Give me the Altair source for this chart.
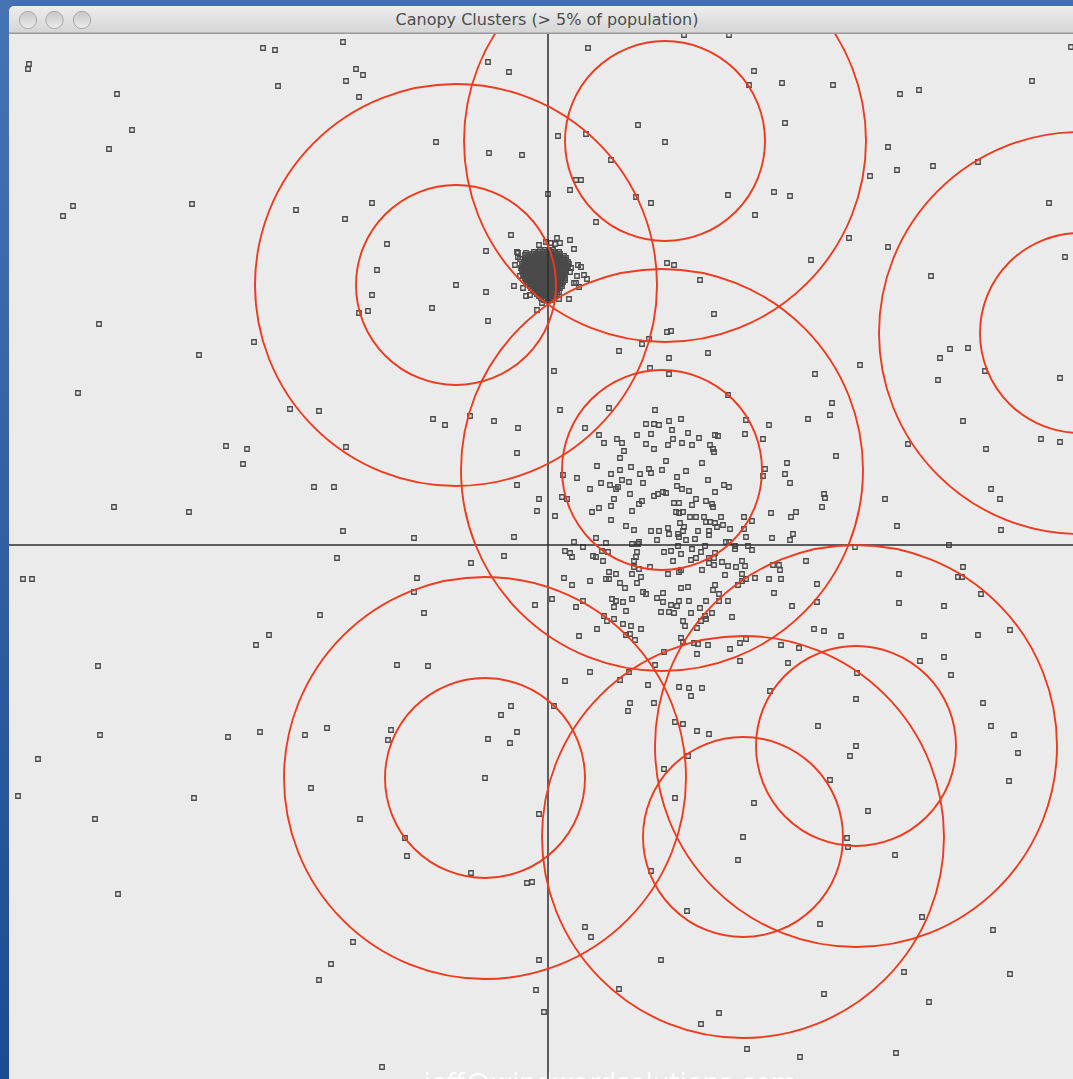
import altair as alt
import pandas as pd

TITLE = "Canopy Clusters (> 5% of population)"
WATERMARK = "jeff@windwardsolutions.com"

# ---- canopy centres and the two distance thresholds ----
CANOPY_X = [-92, 117, 532, 114, -63, 195, 308]
CANOPY_Y = [260, 404, 212, 75, -233, -292, -201]
T2_RADIUS = 100
T1_RADIUS = 201

# ---- sample points, grouped by region of the plane ----
PTS_NW = [(-285, 497), (-273, 495), (-519, 481), (-520, 476), (-431, 451), (-270, 459),
          (-416, 415), (-439, 396), (-475, 339), (-485, 329), (-356, 341), (-252, 335),
          (-449, 221)]

PTS_N = [(-205, 503), (-60, 483), (-39, 473), (-192, 476), (-185, 470), (-202, 464),
         (-189, 448), (40, 497), (136, 510), (-112, 403), (-59, 392), (-26, 390), (10, 409),
         (38, 411), (90, 420), (117, 403), (63, 385), (28, 365), (33, 365), (22, 355),
         (0, 351), (88, 348), (103, 342), (48, 323), (-176, 342), (-203, 326), (-161, 301),
         (-171, 275), (-176, 250), (-180, 234), (-189, 232), (-116, 237), (-92, 260),
         (-62, 294), (-62, 253), (-60, 224), (-37, 310), (119, 282), (126, 280), (152, 265),
         (119, 213), (123, 214)]

BLOB_EDGE = [(-9, 300), (9, 307), (22, 305), (26, 296), (12, 302), (7, 301), (30, 280),
             (33, 278), (36, 270), (29, 269), (26, 262), (28, 262), (31, 258), (21, 246),
             (11, 246), (0, 247), (-6, 242), (-11, 235), (-22, 249), (-34, 259), (-33, 280),
             (-30, 292), (-22, 292), (-28, 269), (-25, 257), (-2, 303), (3, 302), (-31, 293),
             (-23, 290), (-30, 288), (-28, 286), (23, 277), (22, 273), (39, 266), (-18, 250)]

# dense core of the tight cluster: (y, [x values]) per row
BLOB_ROWS = [
    (295, [-8, -3, 1, 5]),
    (293, [-14, -10, -5, -1, 3, 7, 11]),
    (291, [-16, -12, -7, -3, 1, 4, 9, 12]),
    (289, [-20, -15, -11, -8, -4, 0, 4, 8, 12, 16]),
    (287, [-22, -18, -13, -10, -6, -1, 2, 7, 10, 15, 18]),
    (285, [-23, -21, -17, -13, -9, -6, -2, 3, 6, 10, 14, 18]),
    (283, [-24, -19, -16, -11, -8, -4, 0, 5, 8, 12, 17, 20]),
    (281, [-26, -23, -18, -14, -10, -7, -3, 1, 6, 10, 13, 17, 21]),
    (279, [-25, -21, -17, -12, -9, -5, -1, 3, 8, 11, 15, 19]),
    (277, [-27, -23, -19, -15, -12, -8, -4, 0, 4, 9, 12, 16, 20]),
    (275, [-26, -22, -17, -14, -10, -6, -2, 2, 6, 11, 14, 18]),
    (273, [-25, -22, -18, -13, -10, -5, -1, 2, 7, 10, 14, 18]),
    (271, [-24, -20, -15, -12, -8, -3, 0, 4, 9, 12, 16]),
    (269, [-25, -21, -17, -13, -9, -5, -1, 3, 7, 11, 15]),
    (267, [-23, -19, -15, -10, -7, -3, 2, 5, 9, 13, 17]),
    (265, [-22, -18, -15, -11, -6, -2, 1, 6, 10, 13, 17]),
    (263, [-21, -16, -13, -9, -4, -1, 3, 8, 11, 15]),
    (261, [-20, -16, -11, -7, -3, 0, 5, 9, 13]),
    (259, [-18, -14, -9, -6, -2, 2, 7, 10, 14]),
    (257, [-17, -12, -8, -4, -1, 4, 8, 12]),
    (255, [-15, -11, -6, -3, 1, 6, 9]),
    (253, [-13, -9, -5, -1, 3, 7, 11]),
    (251, [-11, -7, -2, 1, 5, 9]),
    (249, [-9, -5, 0, 3, 7]),
    (247, [-7, -3, 2, 5]),
    (245, [-4, 0, 4]),
]

PTS_NE = [(181, 510), (206, 474), (201, 460), (234, 462), (285, 460), (237, 422), (352, 451),
          (371, 455), (484, 464), (523, 498), (340, 398), (349, 375), (385, 379), (322, 369),
          (430, 383), (180, 350), (226, 353), (242, 349), (207, 330), (301, 307), (263, 285),
          (340, 298), (383, 269), (501, 342), (517, 288), (166, 231)]

PTS_W = [(-294, 203), (-349, 190), (-470, 152), (-258, 136), (-229, 134), (-322, 99),
         (-301, 96), (-305, 81), (-202, 98), (-115, 126), (-103, 120), (-78, 129), (-54, 124),
         (-30, 117), (-31, 92), (-31, 60), (-9, 46), (-11, 34), (-234, 58), (-214, 58),
         (-434, 38), (-359, 33), (-205, 14), (-134, 7), (-34, 8), (-211, -13), (-44, -11),
         (-77, -18), (-525, -34), (-516, -34), (-131, -33), (-134, -47), (-124, -68),
         (-13, -60), (-228, -70), (-279, -90), (-292, -100), (-450, -121), (-151, -120),
         (-120, -121)]

PTS_CENTRAL = [
    (94, 201), (101, 206), (71, 194), (121, 187), (160, 192), (6, 174), (102, 177), (121, 171),
    (267, 171), (312, 180), (392, 187), (402, 196), (420, 197), (390, 165), (437, 174),
    (512, 167), (180, 150), (12, 135), (61, 137), (107, 135), (284, 142), (282, 130),
    (260, 126), (415, 124), (37, 117), (98, 121), (106, 121), (111, 120), (121, 124),
    (133, 126), (198, 125), (221, 120), (51, 110), (69, 106), (74, 102), (89, 110), (103, 111),
    (124, 115), (125, 106), (140, 112), (151, 107), (167, 110), (170, 109), (197, 111),
    (215, 106), (360, 101), (438, 96), (493, 106), (512, 103), (56, 102), (76, 94), (98, 101),
    (106, 96), (120, 100), (134, 102), (144, 100), (162, 100), (165, 96), (166, 93), (72, 87),
    (118, 84), (49, 79), (72, 75), (83, 78), (101, 76), (103, 72), (114, 75), (138, 74),
    (154, 82), (217, 76), (215, 69), (239, 82), (237, 71), (288, 89), (15, 70), (29, 67),
    (63, 71), (74, 65), (81, 63), (92, 71), (95, 62), (129, 68), (129, 59), (160, 65), (42, 56),
    (53, 62), (62, 60), (68, 56), (70, 58), (82, 51), (106, 49), (110, 51), (115, 53), (118, 52),
    (134, 56), (141, 54), (167, 53), (176, 60), (181, 58), (242, 62), (276, 51), (277, 47),
    (443, 56), (452, 46), (337, 46), (14, 48), (19, 46), (66, 46), (94, 44), (91, 41), (126, 42),
    (131, 42), (148, 46), (158, 44), (164, 41), (165, 38), (144, 40), (51, 37), (44, 33),
    (63, 39), (84, 34), (274, 38), (7, 29), (63, 25), (128, 33), (131, 32), (135, 33), (142, 28),
    (148, 28), (156, 28), (223, 32), (243, 28), (248, 33), (196, 28), (204, 24), (173, 28),
    (158, 23), (162, 23), (167, 22), (169, 18), (175, 20), (132, 22), (136, 18), (78, 19),
    (86, 15), (103, 14), (111, 14), (120, 17), (121, 11), (130, 11), (131, 8), (135, 14),
    (150, 14), (161, 14), (161, 10), (182, 16), (196, 16), (198, 8), (224, 7), (245, 11),
    (242, 5), (349, 19), (453, 15), (48, 7), (109, 5), (138, 5), (147, 6), (26, 3), (35, -2),
    (58, 2), (54, -6), (60, -7), (84, 1), (91, 3), (90, 1), (130, -1), (157, -1), (178, 3),
    (181, 3), (187, -1), (200, -1), (204, -5), (187, -4), (307, -2), (401, 0), (17, -6),
    (22, -8), (24, -12), (45, -11), (48, -12), (55, -16), (89, -7), (88, -12), (86, -16),
    (86, -22), (91, -24), (116, -7), (123, -6), (133, -9), (144, -4), (143, -15), (148, -13),
    (153, -7), (125, -16), (161, -13), (167, -8), (166, -13), (161, -18), (166, -20),
    (174, -17), (180, -21), (188, -22), (194, -16), (197, -21), (225, -20), (231, -20),
    (232, -25), (258, -16), (102, -22), (120, -29), (131, -27), (133, -25), (154, -25),
    (177, -30), (194, -29), (61, -27), (68, -29), (16, -33), (24, -40), (42, -36), (58, -34),
    (61, -34), (72, -38), (77, -43), (84, -29), (93, -32), (89, -38), (133, -43), (140, -42),
    (167, -40), (165, -45), (190, -40), (194, -36), (198, -34), (207, -33), (221, -34),
    (233, -34), (269, -39), (351, -29), (415, -22), (410, -32), (414, -32), (4, -54), (28, -62),
    (35, -56), (64, -54), (68, -56), (75, -57), (84, -54), (66, -62), (78, -66), (95, -47),
    (98, -49), (109, -53), (115, -48), (115, -57), (123, -60), (129, -61), (131, -56),
    (141, -56), (158, -56), (171, -56), (180, -56), (171, -49), (226, -48), (244, -61),
    (269, -57), (351, -58), (396, -61), (433, -49), (113, -67), (121, -67), (126, -68),
    (143, -68), (152, -63), (157, -71), (164, -68), (184, -72), (56, -71), (59, -76), (66, -74),
    (75, -79), (83, -81), (93, -84), (49, -84), (31, -91), (78, -90), (82, -89), (87, -95),
    (135, -76), (137, -81), (149, -83), (153, -76), (158, -74), (133, -93), (135, -97),
    (146, -98), (150, -99), (149, -109), (160, -100), (182, -104), (192, -98), (198, -94),
    (192, -116), (116, -107), (107, -120), (233, -100), (251, -103), (266, -84), (276, -86),
    (293, -91), (240, -118), (309, -128), (372, -116), (396, -112), (376, -91), (430, -90),
    (462, -85), (403, -130), (42, -127), (17, -136), (72, -135), (81, -127), (100, -140),
    (131, -142), (141, -143), (154, -143)]

PTS_SW = [(-448, -190), (-510, -214), (-530, -251), (-453, -274), (-430, -349), (-320, -192),
          (-288, -187), (-354, -253), (-243, -190), (-221, -183), (-237, -243), (-188, -274),
          (-157, -185), (-160, -195), (-143, -293), (-141, -311), (-63, -233), (-60, -194),
          (-47, -170), (-37, -161), (-31, -187), (-38, -198), (-77, -328), (-21, -338),
          (-16, -337), (-9, -269), (-195, -397), (-217, -419), (-229, -435), (-9, -415),
          (-12, -445), (-4, -467), (-166, -522)]

PTS_SE = [(6, -161), (82, -158), (80, -166), (106, -158), (143, -151), (222, -146), (308, -154),
          (127, -177), (135, -179), (149, -186), (161, -189), (270, -181), (308, -201),
          (302, -211), (140, -211), (116, -224), (282, -235), (127, -253), (206, -258),
          (320, -266), (195, -292), (190, -315), (299, -293), (300, -302), (347, -310),
          (103, -326), (139, -366), (272, -379), (374, -372), (37, -382), (43, -392),
          (113, -415), (356, -427), (276, -449), (381, -457), (71, -444), (171, -468),
          (153, -479), (199, -504), (252, -512), (348, -508), (435, -158), (443, -181),
          (466, -190), (470, -208), (461, -236), (445, -385), (462, -429)]

# ---- tables ----
rows = []
for group in (PTS_NW, PTS_N, BLOB_EDGE, PTS_NE, PTS_W, PTS_CENTRAL, PTS_SW, PTS_SE):
    rows.extend({"x": x, "y": y} for x, y in group)
for yv, xs_row in BLOB_ROWS:
    rows.extend({"x": x, "y": yv} for x in xs_row)
points_df = pd.DataFrame(rows)

circ_rows = []
for cx, cy in zip(CANOPY_X, CANOPY_Y):
    circ_rows.append({"x": cx, "y": cy, "r": T2_RADIUS})
    circ_rows.append({"x": cx, "y": cy, "r": T1_RADIUS})
circles_df = pd.DataFrame(circ_rows)

# ---- geometry of the window ----
W, H = 1064, 1045
xscale = alt.Scale(domain=[-539, 525], nice=False, zero=False)
yscale = alt.Scale(domain=[-534, 511], nice=False, zero=False)
X = alt.X("x:Q", scale=xscale, axis=None)
Y = alt.Y("y:Q", scale=yscale, axis=None)
one = pd.DataFrame({"k": [0]})


def vgrad(top, bottom):
    return alt.LinearGradient(gradient="linear", x1=0, y1=0, x2=0, y2=1,
                              stops=[alt.GradientStop(color=top, offset=0),
                                     alt.GradientStop(color=bottom, offset=1)])


left_strip = alt.Chart(one).mark_rect(fill=vgrad("#4673b4", "#1d4b90")).encode(
    x=alt.value(-9), x2=alt.value(0), y=alt.value(-34), y2=alt.value(H))

watermark = alt.Chart(one).mark_text(
    text=WATERMARK, font="DejaVu Sans", fontSize=26, color="#ffffff", opacity=0.95,
    align="center", baseline="alphabetic"
).encode(x=alt.value(601), y=alt.value(1058))

points = alt.Chart(points_df).mark_square(
    filled=False, size=20, strokeWidth=1.3, color="#4a4a4a", opacity=1, clip=True
).encode(x=X, y=Y)

vrule = alt.Chart(pd.DataFrame({"x": [0]})).mark_rule(
    color="#2e2e2e", strokeWidth=1.5, clip=True).encode(x=X)
hrule = alt.Chart(pd.DataFrame({"y": [0]})).mark_rule(
    color="#2e2e2e", strokeWidth=1.5, clip=True).encode(y=Y)

circles = alt.Chart(circles_df).transform_calculate(
    s="pow(2 * datum.r, 2)"
).mark_point(
    shape="circle", filled=False, color="#ef3b1d", strokeWidth=1.9, opacity=1, clip=True
).encode(x=X, y=Y, size=alt.Size("s:Q", scale=None, legend=None))

title_bar = alt.Chart(one).mark_rect(
    fill=vgrad("#ededed", "#d5d5d5"), cornerRadiusTopLeft=5
).encode(x=alt.value(0), x2=alt.value(W), y=alt.value(-28), y2=alt.value(-1))

separator = alt.Chart(one).mark_rect(fill="#999999").encode(
    x=alt.value(0), x2=alt.value(W), y=alt.value(-1.5), y2=alt.value(0))

buttons = [
    alt.Chart(one).mark_point(
        shape="circle", filled=True, fill=vgrad("#c6c6c6", "#ededed"), stroke="#a8a8a8",
        strokeWidth=1, size=300, opacity=1
    ).encode(x=alt.value(bx), y=alt.value(-14))
    for bx in (19, 45.5, 73)
]

title = alt.Chart(one).mark_text(
    text=TITLE, font="DejaVu Sans", fontSize=16, color="#4d4d4d",
    align="center", baseline="middle"
).encode(x=alt.value(538), y=alt.value(-14))

chart = alt.layer(
    left_strip, watermark, points, vrule, hrule, circles, title_bar, separator, *buttons, title
).properties(
    width=W, height=H,
    padding={"left": 9, "top": 34, "right": 0, "bottom": 0},
    autosize=alt.AutoSizeParams(type="none"),
    background="#446fb0",
).configure_view(
    fill="#ebebeb", stroke=None
)

chart.save("out.html", embed_options={"renderer": "svg", "actions": False})
